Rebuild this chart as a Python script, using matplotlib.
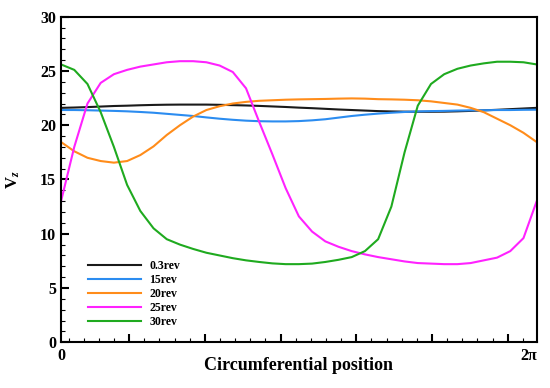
import numpy as np
import matplotlib
matplotlib.use("Agg")
import matplotlib.pyplot as plt
from matplotlib.ticker import FixedLocator, NullFormatter

plt.rcParams['font.family'] = ['Liberation Serif', 'DejaVu Serif']
plt.rcParams['font.weight'] = 'bold'
plt.rcParams['mathtext.fontset'] = 'custom'
plt.rcParams['mathtext.it'] = 'Liberation Serif:italic:bold'
plt.rcParams['mathtext.rm'] = 'Liberation Serif:bold'

theta = np.linspace(0, 2 * np.pi, 37)

labels = ["0.3rev", "15rev", "20rev", "25rev", "30rev"]
colors = ["#1a1a1a", "#2b8cf0", "#ff8c1a", "#ff22ff", "#1faa1f"]

v_03 = [21.6, 21.63, 21.67, 21.72, 21.77, 21.8, 21.84, 21.87, 21.89, 21.9, 21.9, 21.9,
        21.88, 21.85, 21.82, 21.78, 21.73, 21.68, 21.62, 21.57, 21.51, 21.45, 21.4, 21.35,
        21.3, 21.27, 21.25, 21.24, 21.24, 21.25, 21.28, 21.32, 21.37, 21.42, 21.48, 21.54, 21.6]
v_15 = [21.4, 21.4, 21.38, 21.35, 21.32, 21.28, 21.22, 21.15, 21.05, 20.95, 20.85, 20.72,
        20.6, 20.5, 20.42, 20.37, 20.35, 20.35, 20.38, 20.45, 20.55, 20.7, 20.85, 20.97,
        21.07, 21.15, 21.22, 21.27, 21.3, 21.32, 21.35, 21.37, 21.38, 21.4, 21.4, 21.42, 21.43]
v_20 = [18.45, 17.6, 17.0, 16.7, 16.55, 16.7, 17.25, 18.05, 19.1, 20.0, 20.8, 21.4,
        21.75, 22.0, 22.15, 22.25, 22.3, 22.35, 22.38, 22.4, 22.42, 22.45, 22.47, 22.45,
        22.4, 22.38, 22.35, 22.3, 22.2, 22.05, 21.9, 21.6, 21.2, 20.6, 20.0, 19.3, 18.45]
v_25 = [13.0, 18.0, 22.0, 23.9, 24.7, 25.1, 25.4, 25.6, 25.8, 25.9, 25.9, 25.8,
        25.5, 24.9, 23.4, 20.3, 17.3, 14.2, 11.6, 10.2, 9.3, 8.8, 8.4, 8.1,
        7.85, 7.65, 7.45, 7.3, 7.25, 7.2, 7.2, 7.3, 7.55, 7.8, 8.4, 9.6, 13.0]
v_30 = [25.6, 25.1, 23.8, 21.2, 18.0, 14.5, 12.1, 10.5, 9.5, 9.0, 8.6, 8.25,
        8.0, 7.75, 7.55, 7.4, 7.27, 7.2, 7.2, 7.25, 7.4, 7.6, 7.85, 8.4,
        9.5, 12.5, 17.5, 21.8, 23.8, 24.7, 25.2, 25.5, 25.7, 25.85, 25.85, 25.8, 25.6]
series = [v_03, v_15, v_20, v_25, v_30]

fig = plt.figure(figsize=(5.5, 3.88), dpi=100)
ax = fig.add_axes([0.111, 0.1178, 0.8648, 0.8392])

for vals, lab, col in zip(series, labels, colors):
    ax.plot(theta, vals, color=col, lw=1.5, label=lab)

ax.set_xlim(0, 2 * np.pi)
ax.set_ylim(0, 30)
ax.xaxis.set_major_locator(FixedLocator(np.arange(0.9, 6.2, 1.0)))
ax.xaxis.set_minor_locator(FixedLocator(np.arange(0.1, 6.25, 0.2)))
ax.xaxis.set_major_formatter(NullFormatter())
ax.set_yticks(np.arange(0, 31, 5))
ax.yaxis.set_minor_locator(FixedLocator(np.arange(0, 31, 1)))
ax.tick_params(axis='both', which='major', direction='in', length=6, width=1.5,
               top=False, right=False, labelsize=11.5)
ax.tick_params(axis='both', which='minor', direction='in', length=3, width=0.8,
               top=False, right=False)
for lbl in ax.get_yticklabels():
    lbl.set_fontweight('bold')
for sp in ax.spines.values():
    sp.set_linewidth(1.5)

ax.text(0, -0.018, "0", transform=ax.get_xaxis_transform(), ha='center', va='top',
        fontsize=11.5, fontweight='bold')
ax.text(2 * np.pi, -0.018, "2π", transform=ax.get_xaxis_transform(), ha='right', va='top',
        fontsize=11.5, fontweight='bold')

ax.set_xlabel("Circumferential position", fontsize=13, fontweight='bold', labelpad=7)
ax.set_ylabel(r"V$_{z}$", fontsize=12, fontweight='bold', labelpad=13)

leg = ax.legend(loc='lower left', bbox_to_anchor=(0.034, 0.012), frameon=False,
                prop={'size': 8.5, 'weight': 'bold'}, handlelength=4.5,
                labelspacing=0.17, handletextpad=0.7)

fig.savefig("out.png", dpi=100)
